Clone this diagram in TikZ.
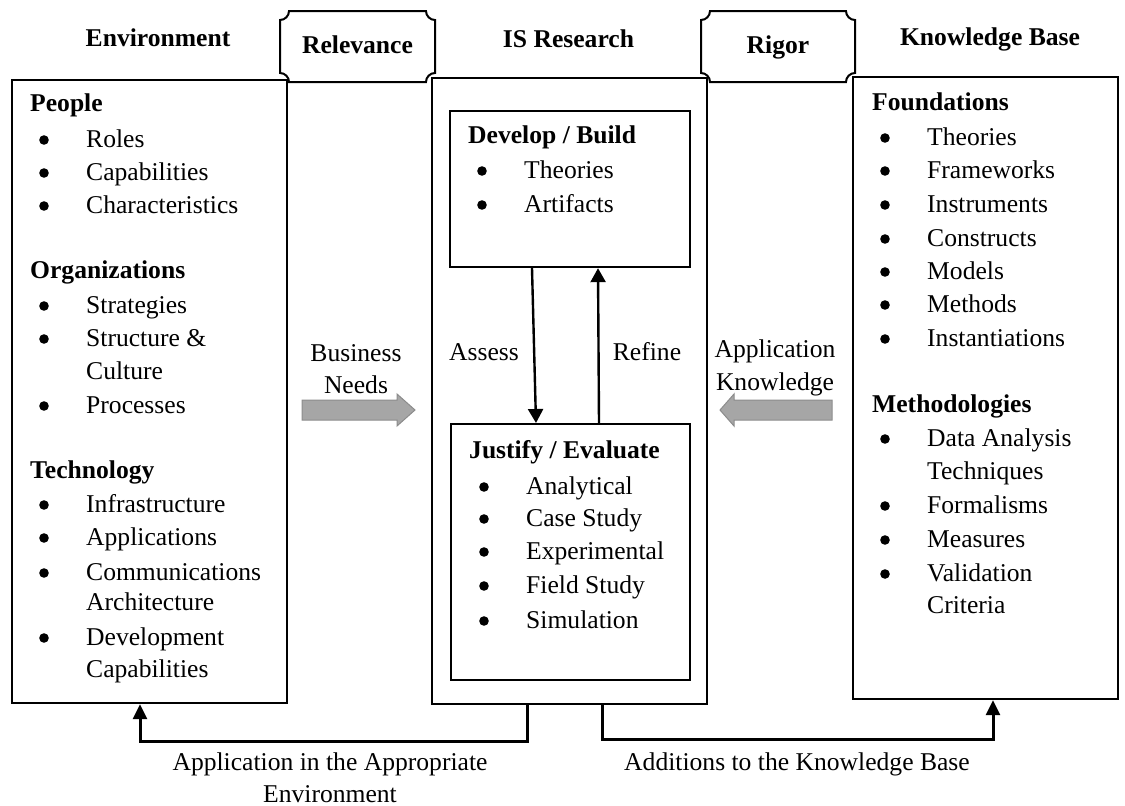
\documentclass[tikz,border=0pt]{standalone}
\usepackage{fontspec}
\setmainfont{Liberation Serif}
\usetikzlibrary{calc,arrows.meta}
\newcommand\fs{\fontsize{25.6}{33}\selectfont}
\definecolor{arrgray}{HTML}{A6A6A6}
\definecolor{arrgrayd}{HTML}{8C8C8C}
\newcommand\itm[4]{\fill ({#1-42},{#2-7}) circle[radius=4.8]; \node[txt] (#3) at (#1,#2) {#4};}
\newcommand\plaque[4]{%
  \draw[plq] ({#1+9},#2) -- ({#3-9},#2) arc[start angle=180,end angle=90,radius=9]
   -- (#3,{#4-9}) arc[start angle=270,end angle=180,radius=9]
   -- ({#1+9},#4) arc[start angle=0,end angle=-90,radius=9]
   -- (#1,{#2+9}) arc[start angle=90,end angle=0,radius=9] -- cycle;}
\begin{document}
\begin{tikzpicture}[x=1pt,y=-1pt,
  box/.style={draw, line width=2.2pt, inner sep=0, anchor=north west},
  txt/.style={anchor=base west, inner sep=0, font=\fs},
  hd/.style={anchor=base west, inner sep=0, font=\fs\bfseries},
  lbl/.style={anchor=base, inner sep=0, font=\fs},
  ttl/.style={anchor=base, inner sep=0, font=\fs\bfseries},
  plq/.style={line width=2pt},
  flow/.style={line width=2.4pt, -{Triangle[length=14pt,width=15pt]}},
  back/.style={line width=3pt, -{Triangle[length=15pt,width=14pt]}},
  blk/.style={fill=arrgray, draw=arrgrayd, line width=1pt}]
\useasboundingbox (0,0) rectangle (1125,806);

% titles
\node[ttl] (tenv) at (158,46) {Environment};
\node[ttl] (tis) at (568.5,47) {IS Research};
\node[ttl] (tkb) at (990,45) {Knowledge Base};
\node[ttl] (rel) at (357.5,53) {Relevance};
\node[ttl] (rig) at (778,53) {Rigor};
\plaque{280}{11}{435}{82}
\plaque{701}{11}{855}{82}

% boxes
\node[box, minimum width=275pt, minimum height=623pt] (env) at (11,79) {};
\node[box, minimum width=275pt, minimum height=626pt] (is) at (431,77) {};
\node[box, minimum width=240pt, minimum height=156pt] (dev) at (449,110) {};
\node[box, minimum width=239pt, minimum height=256pt] (jus) at (450,423) {};
\node[box, minimum width=265pt, minimum height=622pt] (kb) at (852,76) {};

% environment content
\node[hd] (ppl) at (30,111) {People};
\itm{86}{147}{roles}{Roles}
\itm{86}{180}{capa}{Capabilities}
\itm{86}{213}{chr}{Characteristics}
\node[hd] (org) at (30,278) {Organizations};
\itm{86}{313}{strat}{Strategies}
\itm{86}{346}{stc}{Structure \&}
\node[txt] (cul) at (86,379) {Culture};
\itm{86}{413}{proc}{Processes}
\node[hd] (tech) at (30,478) {Technology};
\itm{86}{512}{infra}{Infrastructure}
\itm{86}{545}{appl}{Applications}
\itm{86}{580}{comm}{Communications}
\node[txt] (arch) at (86,610) {Architecture};
\itm{86}{645}{devc}{Development}
\node[txt] (capb) at (86,677) {Capabilities};

% develop / build
\node[hd] (devh) at (468,143) {Develop / Build};
\itm{524}{178}{dth}{Theories}
\itm{524}{212}{dar}{Artifacts}

% justify / evaluate
\node[hd] (jush) at (469,458) {Justify / Evaluate};
\itm{526}{494}{jan}{Analytical}
\itm{526}{526}{jcs}{Case Study}
\itm{526}{559}{jex}{Experimental}
\itm{526}{593}{jfs}{Field Study}
\itm{526}{628}{jsi}{Simulation}

% knowledge base content
\node[hd] (fnd) at (872,110) {Foundations};
\itm{927}{145}{kth}{Theories}
\itm{927}{178}{kfr}{Frameworks}
\itm{927}{212}{kin}{Instruments}
\itm{927}{246}{kco}{Constructs}
\itm{927}{279}{kmo}{Models}
\itm{927}{312}{kme}{Methods}
\itm{927}{346}{kis}{Instantiations}
\node[hd] (meth) at (872,412) {Methodologies};
\itm{927}{446}{kda}{Data Analysis}
\node[txt] (ktq) at (927,479) {Techniques};
\itm{927}{513}{kfo}{Formalisms}
\itm{927}{547}{kms}{Measures}
\itm{927}{581}{kva}{Validation}
\node[txt] (kcr) at (927,613) {Criteria};

% block arrows
\draw[blk] (302,400) -- (397,400) -- (397,394) -- (415,410) -- (397,426) -- (397,420) -- (302,420) -- cycle;
\draw[blk] (832,400) -- (734,400) -- (734,394) -- (720,410) -- (734,426) -- (734,420) -- (832,420) -- cycle;
\node[lbl] (bn1) at (356,361) {Business};
\node[lbl] (bn2) at (356,393) {Needs};
\node[lbl] (ak1) at (775,357) {Application};
\node[lbl] (ak2) at (775,390) {Knowledge};

% assess / refine
\draw[flow] ($(dev.south west)+(83,0)$) -- ($(jus.north west)+(86,0)$);
\draw[flow] ($(jus.north west)+(149,0)$) -- ($(dev.south west)+(149,0)$);
\node[lbl] (ass) at (484,360) {Assess};
\node[lbl] (ref) at (647,360) {Refine};

% bottom connectors
\draw[back] ($(is.south west)+(96,0)$) -- ++(0,36) -| ($(env.south west)+(129,0)$);
\draw[back] ($(is.south west)+(171,0)$) -- ++(0,34) -| ($(kb.south west)+(141,0)$);
\node[lbl] (ap1) at (330,770) {Application in the Appropriate};
\node[lbl] (ap2) at (330,802) {Environment};
\node[lbl] (add) at (797,770) {Additions to the Knowledge Base};
\end{tikzpicture}
\end{document}
